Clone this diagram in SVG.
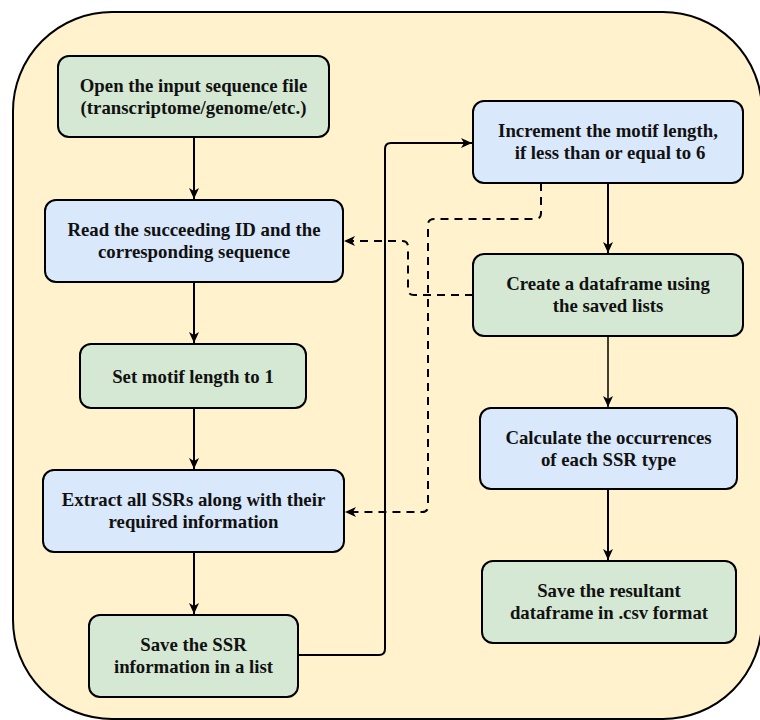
<svg xmlns="http://www.w3.org/2000/svg" width="760" height="720" viewBox="0 0 760 720">
<defs>
<marker id="arr" markerUnits="userSpaceOnUse" markerWidth="12" markerHeight="11" refX="11" refY="5" orient="auto">
<path d="M0,0 L11,5 L0,10 L3,5 Z" fill="#000"/>
</marker>
<style>
.bg{fill:#fff2cc;stroke:#000;stroke-width:2}
.g{fill:#d5e8d4;stroke:#000;stroke-width:2}
.b{fill:#dae8fc;stroke:#000;stroke-width:2}
text{font-family:"Liberation Serif","Times New Roman",serif;font-weight:bold;font-size:18.8px;fill:#111;text-anchor:middle}
.c{fill:none;stroke:#000;stroke-width:2}
.d{fill:none;stroke:#000;stroke-width:2;stroke-dasharray:8 6}
</style>
</defs>
<rect class="bg" x="13" y="12" width="749" height="707" rx="99"/>
<g id="connectors">
<path class="c" d="M194,137 V199" marker-end="url(#arr)"/>
<path class="c" d="M194,282 V343" marker-end="url(#arr)"/>
<path class="c" d="M194,408 V469" marker-end="url(#arr)"/>
<path class="c" d="M194,552 V614" marker-end="url(#arr)"/>
<path class="c" d="M298,655 H379 Q385,655 385,649 V149 Q385,143 391,143 H472" marker-end="url(#arr)"/>
<path class="c" d="M608,183 V253" marker-end="url(#arr)"/>
<path class="c" style="stroke-width:1.5" d="M608,336 V407" marker-end="url(#arr)"/>
<path class="c" d="M608,489 V560" marker-end="url(#arr)"/>
<path class="d" d="M541,183 V213 Q541,219 535,219 H434 Q428,219 428,225 V506 Q428,512 422,512 H345" marker-end="url(#arr)"/>
<path class="d" d="M473,295 H414 Q408,295 408,289 V247 Q408,241 402,241 H344" marker-end="url(#arr)"/>
</g>
<g id="n1"><rect class="g" x="58" y="56" width="271" height="81" rx="11"/><text x="193.5" y="92">Open the input sequence file</text><text x="193.5" y="114">(transcriptome/genome/etc.)</text></g>
<g id="n2"><rect class="b" x="45" y="200" width="298" height="82" rx="11"/><text x="194" y="236">Read the succeeding ID and the</text><text x="194" y="258">corresponding sequence</text></g>
<g id="n3"><rect class="g" x="80" y="344" width="226" height="64" rx="11"/><text x="193" y="382.5">Set motif length to 1</text></g>
<g id="n4"><rect class="b" x="43" y="470" width="301" height="82" rx="11"/><text x="193.5" y="506">Extract all SSRs along with their</text><text x="193.5" y="528">required information</text></g>
<g id="n5"><rect class="g" x="89" y="615" width="209" height="82" rx="11"/><text x="193.5" y="651">Save the SSR</text><text x="193.5" y="673">information in a list</text></g>
<g id="n6"><rect class="b" x="473" y="101" width="270" height="82" rx="11"/><text x="608" y="137">Increment the motif length,</text><text x="610" y="159">if less than or equal to 6</text></g>
<g id="n7"><rect class="g" x="473" y="254" width="270" height="82" rx="11"/><text x="608" y="290">Create a dataframe using</text><text x="608" y="312">the saved lists</text></g>
<g id="n8"><rect class="b" x="480" y="408" width="257" height="81" rx="11"/><text x="608.5" y="444">Calculate the occurrences</text><text x="608.5" y="466">of each SSR type</text></g>
<g id="n9"><rect class="g" x="482" y="561" width="254" height="82" rx="11"/><text x="609" y="597">Save the resultant</text><text x="609" y="619">dataframe in .csv format</text></g>
</svg>
